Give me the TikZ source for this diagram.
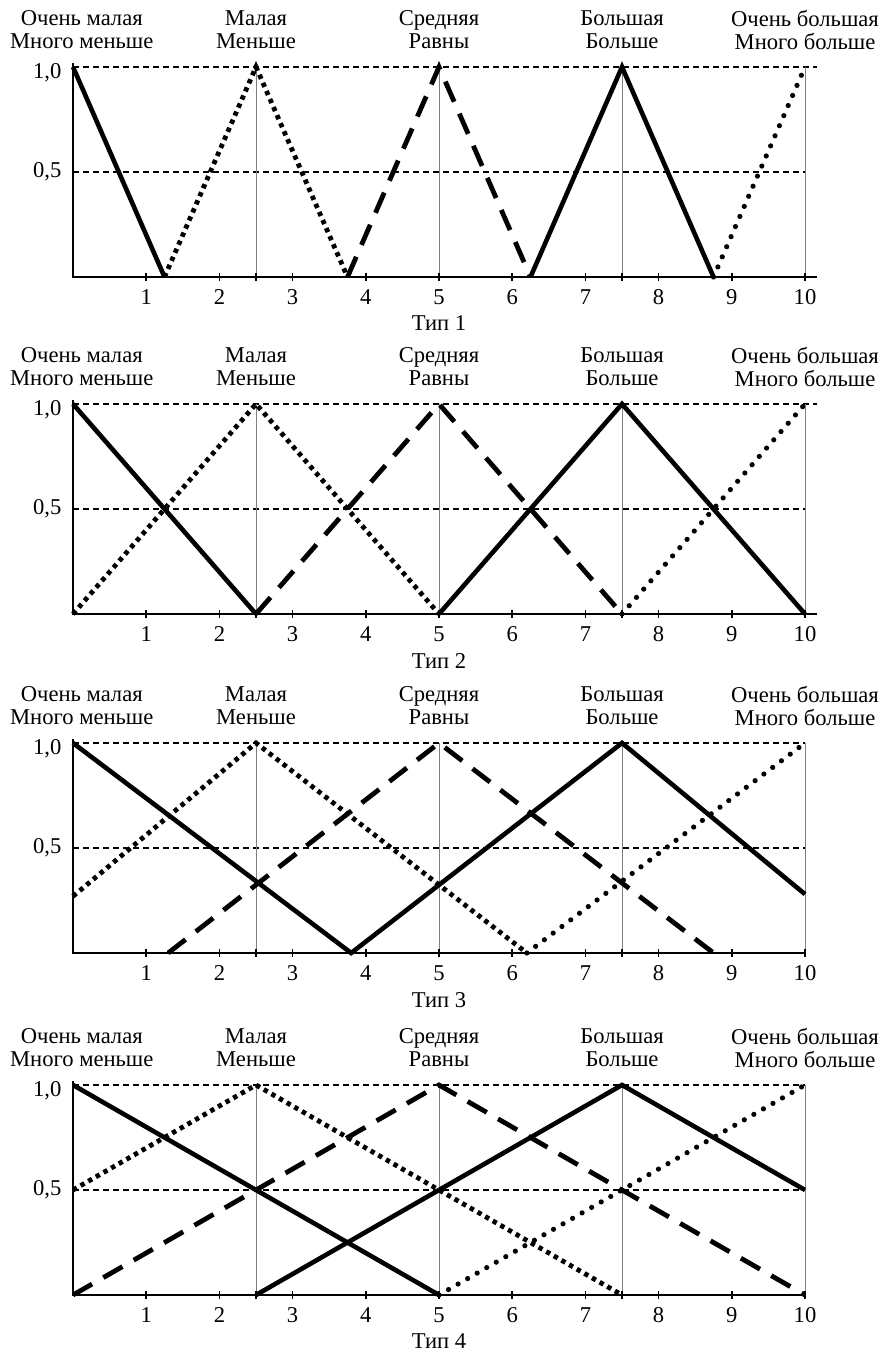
\documentclass[tikz,border=0pt]{standalone}
\usepackage{fontspec}
\setmainfont{Liberation Serif}
\tikzset{
  grid line/.style={line width=0.6pt, dash pattern=on 3pt off 2pt},
  peak line/.style={line width=0.5pt, gray},
  axis line/.style={line width=1.4pt},
  tick line/.style={line width=0.8pt},
  term solid/.style={line width=2.3pt},
  term dashed/.style={line width=2.4pt, dash pattern=on 11pt off 6.5pt},
  term dotted/.style={line width=2.4pt, dash pattern=on 2.2pt off 2.2pt},
  term dots/.style={line width=2.6pt, line cap=round, dash pattern=on 0pt off 5.5pt},
  term label/.style={align=center},
}
% frame of one panel: #1 = type, #2 = right end of axis
\newcommand{\panelframe}[2]{
  \draw[grid line] (0,1) -- (#2,1);
  \draw[grid line] (0,0.5) -- (10,0.5);
  \foreach \p in {2.5,5,7.5,10}
    \draw[peak line] (\p,0) -- (\p,1);
  \foreach \p in {1,2,2.5,3,4,5,6,7,7.5,8,9,10}
    \draw[tick line] (\p,0) ++(0,-2pt) -- ++(0,4pt);
  \draw[axis line] (0,1.02) -- (0,0) -- (#2,0);
  \foreach \i in {1,...,10}
    \node[below=2.6pt] (n#1x\i) at (\i,0) {\i};
  \node[anchor=east, xshift=-2.3pt, yshift=-3pt] (one#1) at (0,1) {1,0};
  \node[anchor=east, xshift=-2.3pt] (half#1) at (0,0.5) {0,5};
  \node[term label] (vs#1) at (0.12,1.176) {Очень малая\\Много меньше};
  \node[term label] (s#1) at (2.5,1.176) {Малая\\Меньше};
  \node[term label] (m#1) at (5,1.176) {Средняя\\Равны};
  \node[term label] (b#1) at (7.5,1.176) {Большая\\Больше};
  \node[term label] (vb#1) at (10,1.176) {Очень большая\\Много больше};
  \node[below=16pt] (t#1) at (5,0) {Тип #1};
}
\begin{document}
\begin{tikzpicture}[x=36.6pt, y=105pt,
    every node/.style={font=\fontsize{11.3}{11.5}\selectfont}]
  \useasboundingbox (-36.5pt,-31.5pt) rectangle (406.5pt,647.5pt);

  % Type 1
  \begin{scope}[yshift=509pt]
    \panelframe{1}{10.16}
    \draw[term solid] (0,1) -- (1.25,0);
    \draw[term dotted] (1.25,0) -- (2.5,1) -- (3.75,0);
    \draw[term dashed] (3.75,0) -- (5,1) -- (6.25,0);
    \draw[term solid] (6.25,0) -- (7.5,1) -- (8.75,0);
    \draw[term dots] (8.75,0) -- (10,1);
  \end{scope}

  % Type 2
  \begin{scope}[yshift=340.5pt]
    \panelframe{2}{10.16}
    \draw[term solid] (0,1) -- (2.5,0);
    \draw[term dotted] (0,0) -- (2.5,1) -- (5,0);
    \draw[term dashed] (2.5,0) -- (5,1) -- (7.5,0);
    \draw[term solid] (5,0) -- (7.5,1) -- (10,0);
    \draw[term dots] (7.5,0) -- (10,1);
  \end{scope}

  % Type 3
  \begin{scope}[yshift=171pt]
    \panelframe{3}{10}
    \draw[term solid] (0,1) -- (3.8,0) -- (7.5,1) -- (10,0.28);
    \draw[term dotted] (0,0.27) -- (2.5,1) -- (6.2,0);
    \draw[term dashed] (1.3,0) -- (5,1) -- (8.75,0);
    \draw[term dots] (6.2,0) -- (10,1);
  \end{scope}

  % Type 4
  \begin{scope}
    \panelframe{4}{10}
    \draw[term solid] (0,1) -- (5,0);
    \draw[term dotted] (0,0.5) -- (2.5,1) -- (7.5,0);
    \draw[term dashed] (0,0) -- (5,1) -- (10,0);
    \draw[term solid] (2.5,0) -- (7.5,1) -- (10,0.5);
    \draw[term dots] (5,0) -- (10,1);
  \end{scope}
\end{tikzpicture}
\end{document}
